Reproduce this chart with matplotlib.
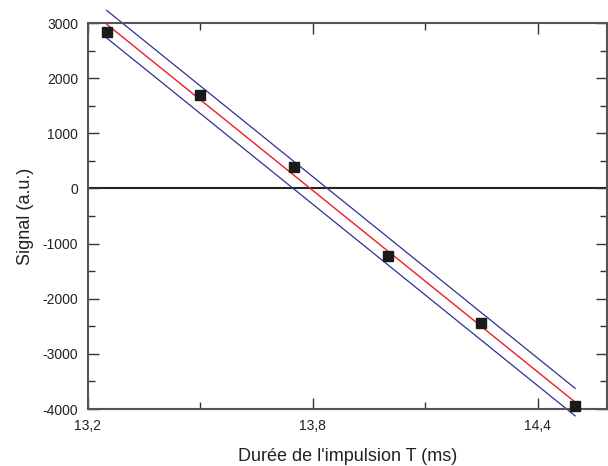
import numpy as np
import matplotlib
matplotlib.use('Agg')
import matplotlib.pyplot as plt
from matplotlib.ticker import MultipleLocator, FuncFormatter

plt.rcParams['font.family'] = ['Liberation Sans', 'DejaVu Sans']

# données mesurées
duree = [13.25, 13.50, 13.75, 14.00, 14.25, 14.50]   # ms
signal = [2840, 1700, 380, -1220, -2440, -3950]      # u.a.
bande = 250  # demi-largeur des bandes de confiance (u.a.)

# ajustement linéaire
pente, origine = np.polyfit(duree, signal, 1)
xf = np.array([duree[0], duree[-1]])
yf = pente * xf + origine

fig = plt.figure(figsize=(6.08, 4.66), dpi=100)
ax = fig.add_axes([0.1447, 0.1223, 0.8536, 0.8283])

ax.axhline(0, color='#222222', lw=1.5, zorder=1)
ax.plot(xf, yf, color='#ee1c24', lw=1, zorder=2, clip_on=False)
ax.plot(xf, yf + bande, color='#2e3192', lw=0.9, zorder=2, clip_on=False)
ax.plot(xf, yf - bande, color='#2e3192', lw=0.9, zorder=2, clip_on=False)
ax.plot(duree, signal, 's', color='#1a1a1a', ms=6.5, zorder=3, clip_on=False)

ax.set_xlim(13.2, 14.585)
ax.set_ylim(-4000, 3000)

ax.xaxis.set_major_locator(MultipleLocator(0.6))
ax.xaxis.set_minor_locator(MultipleLocator(0.3))
ax.yaxis.set_major_locator(MultipleLocator(1000))
ax.yaxis.set_minor_locator(MultipleLocator(500))
ax.xaxis.set_major_formatter(FuncFormatter(lambda v, p: f"{v:.1f}".replace('.', ',')))
ax.yaxis.set_major_formatter(FuncFormatter(lambda v, p: f"{v:.0f}"))

ax.tick_params(which='both', direction='in', top=True, right=True,
               colors='#333333', labelcolor='#222222', labelsize=10)
ax.tick_params(which='major', length=8, width=1, pad=7)
ax.tick_params(which='minor', length=5, width=1)
for s in ax.spines.values():
    s.set_color('#555555')
    s.set_linewidth(1.5)

ax.set_xlabel("Durée de l'impulsion T (ms)", fontsize=13, color='#222222', labelpad=11)
ax.set_ylabel("Signal (a.u.)", fontsize=13, color='#222222', labelpad=6)

fig.savefig('out.png', dpi=100)
